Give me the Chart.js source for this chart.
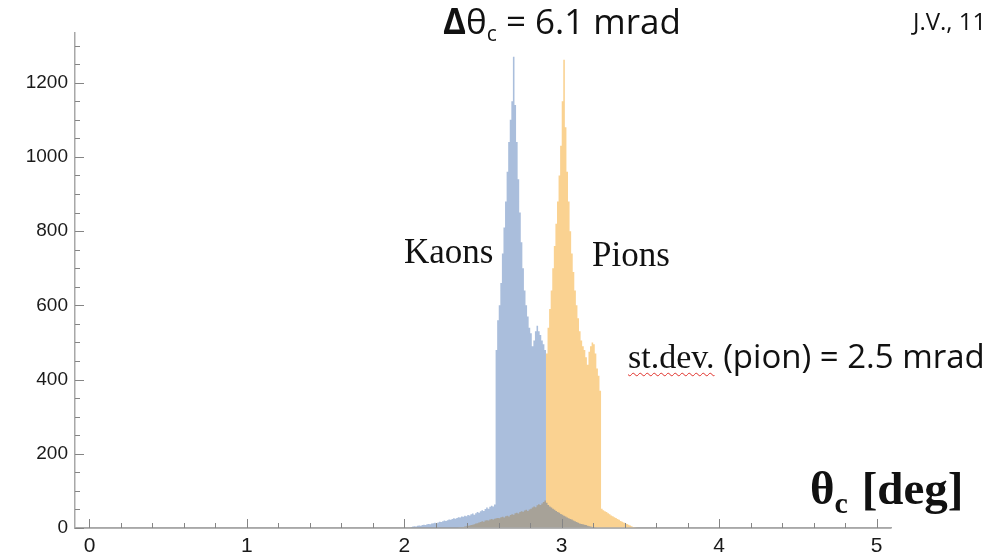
<!DOCTYPE html>
<html>
<head>
<meta charset="utf-8">
<script src="https://cdn.jsdelivr.net/npm/chart.js@4.4.1/dist/chart.umd.min.js"></script>
<style>
  html, body { margin: 0; padding: 0; background: #fff; }
  #wrap { position: relative; width: 986px; height: 558px; overflow: hidden; }
  .note { position: absolute; white-space: nowrap; line-height: 1; color: #111; }
  .sans { font-family: "Open Sans", "Lato", sans-serif; }
  .serif { font-family: "Liberation Serif", "DejaVu Serif", serif; }
  #title { left: 443px; top: 3px; font-size: 35px; }
  #title sub { font-size: 21px; vertical-align: -7px; }
  #author { left: 913px; top: 9px; font-size: 24px; }
  #kaons { left: 404px; top: 234px; font-size: 35px; }
  #pions { left: 592px; top: 237px; font-size: 35px; }
  #stdev { left: 628px; top: 339px; font-size: 33px; }
  #stdev .serif { font-size: 34px; text-decoration: underline wavy #e0302a; text-decoration-thickness: 1px; text-underline-offset: 4px; }
  #axisTitle { left: 810px; top: 465px; font-size: 47px; font-weight: bold; }
  #axisTitle sub { font-size: 30px; vertical-align: -9px; margin-right: 2px; }
</style>
</head>
<body>
<div id="wrap">
  <canvas id="chart" width="986" height="558"></canvas>
  <div class="note sans" id="title"><b>Δ</b>θ<sub>c</sub> = 6.1 mrad</div>
  <div class="note sans" id="author">J.V., 11</div>
  <div class="note serif" id="kaons">Kaons</div>
  <div class="note serif" id="pions">Pions</div>
  <div class="note sans" id="stdev"><span class="serif">st.dev.</span> (pion) = 2.5 mrad</div>
  <div class="note serif" id="axisTitle">θ<sub>c</sub> [deg]</div>
</div>
<script>
// left edges of the histogram bins (deg)
const binLeft = [
  2.04, 2.05, 2.06, 2.07, 2.08, 2.09, 2.10, 2.11, 2.12, 2.13,
  2.14, 2.15, 2.16, 2.17, 2.18, 2.19, 2.20, 2.21, 2.22, 2.23,
  2.24, 2.25, 2.26, 2.27, 2.28, 2.29, 2.30, 2.31, 2.32, 2.33,
  2.34, 2.35, 2.36, 2.37, 2.38, 2.39, 2.40, 2.41, 2.42, 2.43,
  2.44, 2.45, 2.46, 2.47, 2.48, 2.49, 2.50, 2.51, 2.52, 2.53,
  2.54, 2.55, 2.56, 2.57, 2.58, 2.59, 2.60, 2.61, 2.62, 2.63,
  2.64, 2.65, 2.66, 2.67, 2.68, 2.69, 2.70, 2.71, 2.72, 2.73,
  2.74, 2.75, 2.76, 2.77, 2.78, 2.79, 2.80, 2.81, 2.82, 2.83,
  2.84, 2.85, 2.86, 2.87, 2.88, 2.89, 2.90, 2.91, 2.92, 2.93,
  2.94, 2.95, 2.96, 2.97, 2.98, 2.99, 3.00, 3.01, 3.02, 3.03,
  3.04, 3.05, 3.06, 3.07, 3.08, 3.09, 3.10, 3.11, 3.12, 3.13,
  3.14, 3.15, 3.16, 3.17, 3.18, 3.19, 3.20, 3.21, 3.22, 3.23,
  3.24, 3.25, 3.26, 3.27, 3.28, 3.29, 3.30, 3.31, 3.32, 3.33,
  3.34, 3.35, 3.36, 3.37, 3.38, 3.39, 3.40, 3.41, 3.42, 3.43,
  3.44, 3.45, 3.46, 3.47, 3.48, 3.49, 3.50
];

// counts per bin, kaons
const kaonCounts = [
  0, 2, 4, 5, 4, 6, 7, 6, 8, 9,
  8, 10, 11, 10, 12, 13, 14, 13, 15, 17,
  16, 18, 20, 19, 21, 23, 22, 24, 26, 25,
  27, 29, 28, 31, 30, 33, 32, 35, 34, 37,
  39, 36, 40, 43, 41, 45, 48, 46, 51, 55,
  52, 57, 60, 58, 63, 480, 560, 600, 660, 740,
  810, 880, 960, 1040, 1100, 1150, 1270, 1140, 1040, 940,
  850, 770, 700, 640, 600, 570, 540, 525, 490, 505,
  530, 545, 530, 520, 505, 495, 480, 68, 62, 58,
  55, 52, 49, 46, 43, 41, 38, 36, 33, 31,
  28, 26, 24, 23, 20, 18, 16, 14, 12, 11,
  10, 9, 8, 6, 5, 4, 3, 2, 1, 0,
  0, 0, 0, 0, 0, 0, 0, 0, 0, 0,
  0, 0, 0, 0, 0, 0, 0, 0, 0, 0,
  0, 0, 0, 0, 0, 0, 0
];

// counts per bin, pions
const pionCounts = [
  0, 0, 0, 0, 0, 0, 0, 0, 0, 0,
  0, 0, 0, 0, 0, 0, 0, 0, 0, 0,
  0, 0, 0, 0, 0, 0, 0, 0, 0, 0,
  0, 1, 2, 2, 3, 4, 5, 6, 7, 8,
  9, 10, 12, 13, 15, 16, 18, 17, 20, 21,
  20, 23, 24, 23, 25, 26, 27, 26, 29, 30,
  28, 32, 33, 31, 35, 37, 36, 40, 41, 39,
  43, 45, 44, 47, 49, 46, 50, 52, 55, 58,
  56, 61, 64, 62, 66, 70, 74, 470, 540, 590,
  640, 700, 760, 820, 880, 950, 1030, 1150, 1262, 1080,
  960, 880, 800, 740, 690, 640, 600, 565, 530, 505,
  490, 480, 460, 440, 475, 490, 500, 495, 470, 430,
  410, 370, 52, 48, 45, 43, 40, 37, 34, 32,
  29, 27, 24, 22, 19, 17, 15, 13, 11, 9,
  7, 5, 3, 2, 1, 0, 0
];

const xTickLabels = [0, 1, 2, 3, 4, 5];
const yTickLabels = [0, 200, 400, 600, 800, 1000, 1200];

// pions opaque underneath, kaons see-through on top -> grey where they overlap
const kaonColor = 'rgba(31, 84, 163, 0.38)';
const pionColor = '#fad291';

function toPoints(counts) {
  return binLeft.map((x, i) => ({ x: x, y: counts[i] }));
}

// x axis line redrawn on top + inward major/minor ticks, Mathematica style
const innerTicks = {
  id: 'innerTicks',
  afterDatasetsDraw(chart) {
    const { ctx, chartArea: area, scales } = chart;
    ctx.save();
    ctx.strokeStyle = '#a8a8a8';
    ctx.lineWidth = 1.5;
    ctx.beginPath();
    ctx.moveTo(area.left, area.bottom);
    ctx.lineTo(area.right, area.bottom);
    ctx.stroke();

    ctx.strokeStyle = '#858585';
    ctx.lineWidth = 1;
    ctx.beginPath();
    for (let i = 0; i <= 25; i++) {
      const px = Math.round(scales.x.getPixelForValue(i * 0.2)) + 0.5;
      const len = i % 5 === 0 ? 9 : 5;
      ctx.moveTo(px, area.bottom);
      ctx.lineTo(px, area.bottom - len);
    }
    for (let i = 0; i <= 26; i++) {
      const py = Math.round(scales.y.getPixelForValue(i * 50)) + 0.5;
      const len = i % 4 === 0 ? 9 : 5;
      ctx.moveTo(area.left, py);
      ctx.lineTo(area.left + len, py);
    }
    ctx.stroke();
    ctx.restore();
  }
};

const histStyle = {
  stepped: 'after',
  fill: 'origin',
  borderWidth: 0,
  borderColor: 'rgba(0,0,0,0)',
  pointRadius: 0,
  tension: 0
};

new Chart(document.getElementById('chart'), {
  type: 'line',
  data: {
    datasets: [
      Object.assign({ label: 'Kaons', data: toPoints(kaonCounts), backgroundColor: kaonColor }, histStyle),
      Object.assign({ label: 'Pions', data: toPoints(pionCounts), backgroundColor: pionColor }, histStyle)
    ]
  },
  options: {
    responsive: false,
    animation: false,
    devicePixelRatio: 1,
    layout: { padding: { top: 33, right: 95, bottom: 0, left: 0 } },
    plugins: { legend: { display: false }, tooltip: { enabled: false } },
    scales: {
      x: {
        type: 'linear',
        min: -0.092,
        max: 5.092,
        grid: { display: false, drawTicks: false },
        border: { display: true, color: '#a8a8a8', width: 1.5 },
        afterBuildTicks: (s) => { s.ticks = xTickLabels.map(v => ({ value: v })); },
        afterFit: (s) => { s.height = 30; },
        ticks: {
          padding: 6,
          color: '#1a1a1a',
          callback: (v) => String(v),
          font: { family: '"Liberation Sans Narrow", "Liberation Sans", sans-serif', size: 21 }
        }
      },
      y: {
        min: 0,
        max: 1334,
        grid: { display: false, drawTicks: false },
        border: { display: true, color: '#a8a8a8', width: 1.5 },
        afterBuildTicks: (s) => { s.ticks = yTickLabels.map(v => ({ value: v })); },
        afterFit: (s) => { s.width = 75; },
        ticks: {
          padding: 7,
          color: '#1a1a1a',
          callback: (v) => String(v),
          font: { family: '"Liberation Sans", Arial, sans-serif', size: 19 }
        }
      }
    }
  },
  plugins: [innerTicks]
});
</script>
</body>
</html>
